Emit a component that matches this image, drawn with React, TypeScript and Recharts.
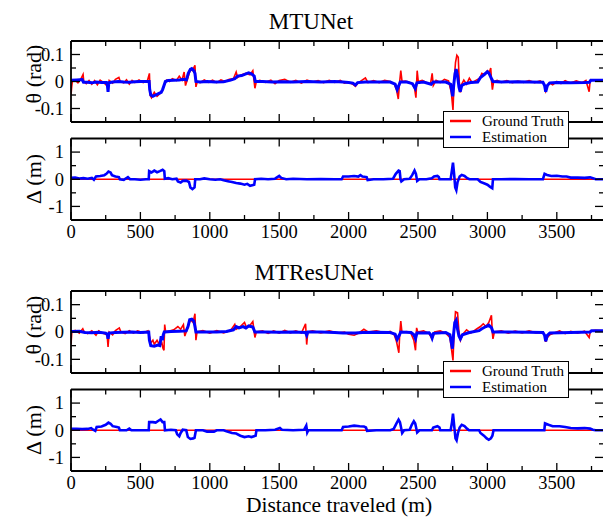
import React from 'react';
import { LineChart, Line, XAxis, YAxis, Legend } from 'recharts';

type Pt = [number, number];

const X_MAX = 3840;
const xTicks = [0, 250, 500, 750, 1000, 1250, 1500, 1750, 2000, 2250, 2500, 2750, 3000, 3250, 3500, 3750];
const thetaTicks = [-0.1, -0.05, 0, 0.05, 0.1];
const deltaTicks = [-1, -0.5, 0, 0.5, 1];
const thetaDomain: [number, number] = [-0.15, 0.15];
const deltaDomain: [number, number] = [-1.5, 1.5];

const titles = ['MTUNet', 'MTResUNet'];
const seriesNames = ['Ground Truth', 'Estimation'];
const xLabel = 'Distance traveled (m)';
const thetaLabel = 'θ (rad)';
const deltaLabel = 'Δ (m)';

const mtunetThetaTruth: Pt[] = [
  [0, -0.05], [5, -0.02], [10, 0], [30, 0.005], [50, -0.005], [70, 0.008], [87, 0.026], [92, 0], [110, -0.008],
  [130, 0.004], [150, -0.01], [170, 0.003], [190, -0.012], [210, 0.005], [240, -0.006], [267, -0.02], [275, 0.004],
  [300, -0.006], [320, 0.008], [345, 0.015], [355, 0], [380, -0.005], [400, 0.006], [420, -0.01], [440, 0.004],
  [460, -0.004], [490, 0.006], [520, -0.004], [550, 0.002], [565, 0.03], [570, -0.05], [580, -0.06], [600, -0.04],
  [620, -0.055], [640, -0.045], [660, -0.03], [675, -0.01], [690, 0.005], [710, 0], [730, 0.01], [760, 0.004],
  [780, 0.02], [800, 0.005], [815, 0.035], [825, -0.015], [840, 0.01], [860, 0.045], [875, 0.04], [893, 0.06],
  [900, -0.02], [910, 0], [930, -0.004], [960, 0.006], [990, -0.003], [1020, 0.005], [1050, -0.004], [1080, 0.006],
  [1110, 0], [1140, 0.008], [1170, 0.01], [1190, 0.035], [1200, 0.015], [1230, 0.025], [1260, 0.03], [1290, 0.025],
  [1310, 0.04], [1325, -0.025], [1335, 0], [1360, 0.004], [1400, -0.003], [1440, 0.005], [1470, -0.008], [1500, 0.004],
  [1540, 0.008], [1580, -0.003], [1620, 0.004], [1660, -0.006], [1700, 0.005], [1740, -0.002], [1780, 0.003],
  [1820, -0.004], [1860, 0.004], [1900, -0.003], [1940, 0.004], [1970, -0.006], [2000, -0.003], [2030, -0.01],
  [2049, -0.018], [2070, -0.005], [2100, 0.006], [2121, 0.013], [2140, -0.004], [2180, 0.003], [2220, -0.004],
  [2260, 0.004], [2300, 0], [2330, -0.01], [2345, -0.03], [2358, -0.065], [2366, -0.01], [2376, 0.04], [2385, 0],
  [2410, 0.002], [2440, -0.004], [2460, -0.01], [2475, -0.025], [2485, -0.06], [2494, 0.04], [2502, 0], [2530, 0.004],
  [2560, -0.004], [2590, -0.01], [2602, 0.03], [2610, -0.015], [2630, 0.004], [2660, -0.004], [2690, 0.008],
  [2720, 0.002], [2740, -0.04], [2752, -0.105], [2760, 0], [2770, 0.07], [2780, 0.097], [2790, 0.09], [2797, 0],
  [2806, -0.04], [2815, -0.01], [2830, 0.005], [2850, -0.01], [2870, 0.012], [2890, -0.004], [2920, 0.005],
  [2945, 0.012], [2960, 0.03], [2980, 0.025], [3000, 0.04], [3015, 0.035], [3024, 0.05], [3030, 0], [3036, -0.03],
  [3045, 0], [3070, 0.004], [3100, -0.003], [3140, 0.003], [3180, -0.004], [3220, 0.002], [3260, -0.003],
  [3300, 0.003], [3340, -0.004], [3380, 0.002], [3410, -0.01], [3420, -0.035], [3430, -0.02], [3445, -0.005],
  [3470, -0.012], [3500, 0], [3530, -0.008], [3560, 0.003], [3600, -0.006], [3640, 0.002], [3680, -0.005],
  [3710, 0.004], [3733, -0.038], [3740, 0.003], [3770, 0.006], [3800, 0.004], [3840, 0.005],
];

const mtunetThetaEst: Pt[] = [
  [0, 0.005], [40, 0.006], [80, 0.007], [90, -0.003], [120, -0.003], [150, -0.005], [180, -0.002], [220, -0.004],
  [255, -0.004], [262, -0.012], [267, -0.038], [272, -0.005], [300, -0.002], [340, 0], [380, -0.002], [420, -0.003],
  [460, -0.001], [500, 0], [540, 0], [563, 0], [567, -0.03], [575, -0.05], [590, -0.055], [610, -0.05], [630, -0.045],
  [650, -0.04], [660, -0.03], [670, -0.015], [680, 0], [700, 0.004], [740, 0.005], [780, 0.006], [810, 0.008],
  [832, 0.006], [845, 0.03], [860, 0.045], [870, 0.048], [885, 0.04], [893, 0.03], [900, 0], [930, -0.002], [980, 0],
  [1040, -0.002], [1100, -0.001], [1150, 0.005], [1180, 0.01], [1200, 0.02], [1230, 0.022], [1260, 0.028],
  [1280, 0.032], [1300, 0.028], [1320, 0.02], [1328, 0], [1380, 0], [1450, -0.002], [1520, -0.001], [1600, -0.002],
  [1700, 0], [1800, -0.002], [1900, 0], [1960, -0.002], [2000, -0.004], [2030, -0.006], [2049, -0.013], [2065, -0.004],
  [2120, -0.002], [2200, -0.002], [2300, -0.002], [2335, -0.01], [2350, -0.03], [2362, -0.015], [2372, -0.002],
  [2420, -0.002], [2460, -0.008], [2480, -0.026], [2492, -0.005], [2540, -0.002], [2595, -0.01], [2610, -0.002],
  [2700, -0.002], [2735, -0.01], [2750, -0.055], [2758, -0.01], [2767, 0.03], [2775, 0.046], [2785, 0.02],
  [2795, -0.02], [2804, -0.038], [2815, -0.015], [2840, -0.008], [2880, -0.004], [2930, -0.002], [2950, 0.015],
  [2975, 0.025], [3000, 0.036], [3012, 0.03], [3030, 0.01], [3040, 0], [3100, -0.002], [3200, -0.001], [3300, -0.002],
  [3400, -0.003], [3412, -0.015], [3420, -0.038], [3432, -0.015], [3450, -0.005], [3500, -0.004], [3600, -0.005],
  [3700, -0.004], [3735, -0.003], [3745, 0.005], [3840, 0.005],
];

const mtunetDeltaEst: Pt[] = [
  [0, 0.05], [30, 0.06], [60, 0.03], [90, 0.04], [120, 0.02], [150, 0.05], [165, -0.02], [180, 0.1], [210, 0.12],
  [240, 0.15], [255, 0.2], [270, 0.28], [285, 0.25], [295, 0.15], [320, 0.1], [345, 0.08], [352, 0], [380, -0.02],
  [410, 0.08], [425, 0], [460, 0], [500, -0.02], [540, 0], [560, 0], [563, 0.3], [580, 0.25], [600, 0.32], [620, 0.26],
  [640, 0.3], [660, 0.35], [672, 0.3], [676, 0.02], [700, 0.04], [730, 0], [760, 0.02], [770, -0.08], [790, -0.12],
  [805, -0.06], [830, -0.05], [850, -0.1], [860, -0.3], [875, -0.36], [890, -0.3], [895, 0], [930, 0], [960, 0.03],
  [1000, 0], [1040, -0.02], [1075, 0], [1100, -0.04], [1130, -0.07], [1160, -0.1], [1190, -0.14], [1220, -0.16],
  [1250, -0.2], [1270, -0.17], [1290, -0.24], [1320, -0.2], [1326, 0], [1370, 0.02], [1420, 0], [1470, 0.02],
  [1500, 0.12], [1515, 0.05], [1550, 0], [1600, 0.02], [1700, 0], [1800, 0.01], [1900, 0], [1950, 0], [1960, 0.1],
  [2000, 0.1], [2040, 0.12], [2070, 0.1], [2085, 0.15], [2100, 0.1], [2130, 0.08], [2137, -0.03], [2180, 0],
  [2250, 0], [2320, 0.02], [2340, 0.2], [2360, 0.32], [2368, 0.3], [2374, 0], [2380, -0.08], [2400, 0], [2440, 0.02],
  [2458, 0.15], [2475, 0.32], [2485, 0.2], [2494, -0.06], [2510, 0], [2560, 0], [2600, 0.04], [2615, 0.1],
  [2640, 0.12], [2650, 0.08], [2655, 0], [2700, 0], [2735, 0], [2745, 0.35], [2752, 0.61], [2760, 0.2], [2768, -0.3],
  [2776, -0.4], [2785, -0.1], [2800, 0.1], [2815, 0.16], [2835, 0.12], [2855, 0.04], [2870, 0], [2930, 0],
  [2950, -0.1], [2975, -0.15], [3000, -0.2], [3020, -0.28], [3035, -0.33], [3040, 0], [3100, 0], [3200, 0.01],
  [3300, 0], [3400, 0], [3412, 0.2], [3430, 0.16], [3460, 0.12], [3500, 0.13], [3540, 0.1], [3570, 0.1], [3600, 0.06],
  [3650, 0.06], [3700, 0.05], [3740, 0.07], [3760, 0.04], [3780, 0], [3840, 0],
];

const mtresunetThetaTruth: Pt[] = [
  [0, -0.045], [6, 0], [30, 0.006], [60, -0.004], [85, 0.012], [95, 0], [120, -0.006], [150, 0.004], [180, -0.012],
  [200, 0.004], [230, -0.005], [260, -0.01], [267, -0.055], [275, 0], [300, -0.01], [320, 0.005], [348, 0.015],
  [360, 0], [390, -0.006], [420, 0.005], [450, -0.004], [480, 0.004], [520, -0.003], [555, 0.004], [567, -0.02],
  [575, -0.04], [590, -0.03], [600, -0.045], [620, -0.03], [640, -0.05], [655, -0.04], [663, -0.06], [670, -0.067],
  [675, 0.027], [682, 0], [710, 0.004], [740, 0.008], [770, 0.02], [790, 0.01], [810, 0.027], [820, -0.015],
  [840, 0.015], [860, 0.045], [880, 0.035], [893, 0.067], [900, -0.03], [908, 0], [950, 0.005], [1000, -0.004],
  [1050, 0.005], [1100, -0.003], [1150, 0.006], [1180, 0.028], [1190, 0.01], [1220, 0.02], [1250, 0.035],
  [1265, 0.015], [1290, 0.025], [1310, 0.038], [1325, -0.02], [1335, 0], [1380, 0.004], [1420, -0.005], [1460, 0.004],
  [1500, -0.004], [1540, 0.006], [1580, -0.003], [1620, 0.004], [1660, -0.004], [1690, 0.03], [1698, -0.046],
  [1706, 0], [1740, 0.004], [1800, -0.003], [1860, 0.004], [1920, -0.004], [1970, 0], [2000, -0.008], [2040, -0.012],
  [2070, -0.005], [2110, 0.01], [2140, 0], [2200, 0.004], [2260, -0.003], [2300, 0.002], [2330, -0.012],
  [2345, -0.035], [2362, -0.076], [2368, -0.01], [2376, 0.04], [2384, 0], [2420, 0.002], [2450, -0.006],
  [2470, -0.03], [2482, -0.067], [2490, 0.015], [2498, 0], [2540, 0.004], [2580, -0.006], [2600, -0.025],
  [2610, -0.015], [2620, 0], [2660, 0.004], [2700, -0.004], [2730, -0.02], [2752, -0.104], [2760, 0], [2770, 0.074],
  [2785, 0.07], [2795, 0], [2806, -0.03], [2820, -0.01], [2850, 0.008], [2880, -0.004], [2920, 0.01], [2950, 0.02],
  [2970, 0.03], [2990, 0.02], [3010, 0.035], [3029, 0.061], [3035, 0], [3040, -0.025], [3050, 0], [3100, 0.004],
  [3150, -0.004], [3200, 0.003], [3250, -0.003], [3300, 0.004], [3350, -0.003], [3400, 0], [3415, -0.015],
  [3420, -0.036], [3432, -0.02], [3450, -0.01], [3480, -0.004], [3520, 0.004], [3560, -0.006], [3600, 0.002],
  [3650, -0.004], [3700, 0.003], [3733, -0.02], [3742, 0.004], [3780, 0.006], [3840, 0.004],
];

const mtresunetThetaEst: Pt[] = [
  [0, 0.002], [60, 0.003], [100, -0.002], [150, -0.003], [200, -0.001], [250, -0.004], [262, -0.01], [267, -0.025],
  [274, -0.004], [320, -0.002], [380, -0.001], [440, 0], [500, -0.002], [560, 0], [565, -0.03], [575, -0.05],
  [600, -0.052], [625, -0.048], [640, -0.05], [650, -0.015], [658, -0.03], [665, -0.01], [672, 0], [720, 0.002],
  [780, 0.003], [830, 0.004], [843, 0.02], [855, 0.045], [870, 0.047], [885, 0.04], [893, 0.02], [900, 0], [960, 0],
  [1050, 0], [1120, 0.002], [1170, 0.008], [1190, 0.02], [1210, 0.015], [1240, 0.02], [1260, 0.015], [1280, 0.022],
  [1310, 0.018], [1325, 0], [1400, 0], [1500, -0.001], [1600, 0], [1690, -0.002], [1698, -0.012], [1706, 0],
  [1800, 0], [1900, -0.002], [1960, -0.004], [2050, -0.004], [2100, -0.002], [2200, -0.001], [2300, -0.002],
  [2335, -0.008], [2350, -0.027], [2365, -0.012], [2375, 0], [2450, -0.002], [2470, -0.01], [2482, -0.025],
  [2492, -0.004], [2580, -0.003], [2595, -0.012], [2602, -0.022], [2612, -0.005], [2700, -0.002], [2730, -0.01],
  [2748, -0.061], [2756, -0.01], [2765, 0.035], [2775, 0.043], [2785, 0.01], [2795, -0.015], [2805, -0.025],
  [2820, -0.01], [2870, -0.002], [2940, 0.005], [2960, 0.012], [2990, 0.02], [3010, 0.025], [3030, 0.015], [3040, 0],
  [3150, 0], [3300, -0.001], [3400, -0.002], [3412, -0.012], [3420, -0.034], [3432, -0.012], [3450, -0.004],
  [3600, -0.002], [3740, 0], [3750, 0.005], [3840, 0.005],
];

const mtresunetDeltaEst: Pt[] = [
  [0, 0.05], [40, 0.05], [80, 0.04], [120, 0.05], [145, 0.08], [160, 0.02], [175, -0.02], [185, 0.12], [220, 0.14],
  [250, 0.2], [270, 0.28], [285, 0.24], [300, 0.15], [330, 0.12], [345, 0.1], [352, 0], [400, 0], [420, 0.06],
  [435, 0], [500, 0], [560, 0], [563, 0.3], [590, 0.3], [610, 0.28], [630, 0.35], [645, 0.4], [660, 0.3], [672, 0.3],
  [677, 0], [720, 0.02], [755, 0], [765, -0.15], [780, -0.22], [790, -0.1], [805, 0.02], [830, 0], [842, -0.25],
  [860, -0.32], [880, -0.3], [890, -0.28], [900, 0], [950, 0], [980, -0.05], [1030, -0.05], [1050, 0], [1100, 0],
  [1120, -0.04], [1160, -0.1], [1190, -0.12], [1220, -0.2], [1250, -0.25], [1280, -0.22], [1300, -0.25],
  [1330, -0.2], [1336, 0], [1400, 0], [1470, 0.02], [1505, 0.08], [1520, 0.02], [1600, 0], [1680, 0.02],
  [1695, 0.17], [1702, -0.08], [1710, 0], [1800, 0], [1900, 0], [1950, 0], [1960, 0.12], [2000, 0.14], [2040, 0.17],
  [2080, 0.15], [2110, 0.14], [2125, 0.1], [2133, -0.02], [2200, 0], [2300, 0], [2325, 0.05], [2345, 0.25],
  [2360, 0.39], [2370, 0.3], [2386, -0.1], [2400, 0], [2440, 0.02], [2455, 0.2], [2470, 0.33], [2480, 0.25],
  [2494, -0.08], [2510, 0], [2600, 0], [2610, 0.1], [2640, 0.15], [2655, 0.1], [2660, 0], [2735, 0], [2745, 0.3],
  [2752, 0.61], [2762, 0.1], [2770, -0.3], [2778, -0.37], [2788, -0.1], [2800, 0.1], [2815, 0.2], [2835, 0.15],
  [2855, 0.05], [2868, 0], [2940, 0], [2950, -0.1], [2975, -0.2], [2995, -0.3], [3010, -0.35], [3025, -0.3],
  [3036, -0.2], [3044, 0], [3200, 0], [3300, 0], [3410, 0], [3415, 0.25], [3440, 0.2], [3470, 0.15], [3520, 0.15],
  [3560, 0.12], [3600, 0.08], [3650, 0.07], [3700, 0.08], [3740, 0.06], [3760, 0.02], [3780, 0], [3840, 0],
];

const deltaTruth: Pt[] = [[0, 0], [3840, 0]];

const FONT = 'Liberation Serif, Times New Roman, serif';
const W = 640;
const H = 517;
const RED = '#ff0000';
const BLUE = '#0000ff';

const toRows = (pts: Pt[]) => pts.map(([x, y]) => ({ x, y }));

const isMajorX = (v: number) => v % 500 === 0;
const isMajorY = (v: number, step: number) => Math.abs(v / step - Math.round(v / step)) < 1e-6;

const BottomTick = (props: any) => {
  const { x, y, payload, showLabel } = props;
  const v = payload.value;
  const major = isMajorX(v);
  return (
    <g>
      <line x1={x} x2={x} y1={y} y2={y - (major ? 8 : 5)} stroke="#000" strokeWidth={1.3} />
      {showLabel && major ? (
        <text x={x} y={y + 18} textAnchor="middle" style={{ fontFamily: FONT }} fontSize={18.5} fill="#000">{v}</text>
      ) : null}
    </g>
  );
};

const TopTick = (props: any) => {
  const { x, y, payload } = props;
  const major = isMajorX(payload.value);
  return <line x1={x} x2={x} y1={y} y2={y + (major ? 8 : 5)} stroke="#000" strokeWidth={1.3} />;
};

const LeftTick = (props: any) => {
  const { x, y, payload, step } = props;
  const v = payload.value;
  const major = isMajorY(v, step);
  return (
    <g>
      <line x1={x} x2={x + (major ? 9 : 5)} y1={y} y2={y} stroke="#000" strokeWidth={1.3} />
      {major ? (
        <text x={x - 7} y={y} dy="0.34em" textAnchor="end" style={{ fontFamily: FONT }} fontSize={18.5} fill="#000">{String(v)}</text>
      ) : null}
    </g>
  );
};

const RightTick = (props: any) => {
  const { x, y, payload, step } = props;
  const major = isMajorY(payload.value, step);
  return <line x1={x} x2={x - (major ? 9 : 5)} y1={y} y2={y} stroke="#000" strokeWidth={1.3} />;
};

const LegendBox = (props: any) => {
  const payload = props.payload || [];
  return (
    <div style={{ width: 126, height: 37, border: '1px solid #000', background: '#fff', boxSizing: 'border-box', position: 'relative', fontFamily: FONT, fontSize: 15, color: '#000' }}>
      {payload.map((p: any, i: number) => (
        <div key={i} style={{ position: 'absolute', left: 6, top: 1.5 + i * 16, height: 16, display: 'flex', alignItems: 'center', whiteSpace: 'nowrap' }}>
          <svg width={21} height={4} style={{ display: 'block' }}>
            <line x1={0} x2={21} y1={2} y2={2} stroke={p.color} strokeWidth={2.5} />
          </svg>
          <span style={{ marginLeft: 11, lineHeight: '16px' }}>{p.value}</span>
        </div>
      ))}
    </div>
  );
};

const axisLineStyle = { stroke: '#000', strokeWidth: 1.8 };

type PanelProps = {
  plotTop: number;
  plotBottom: number;
  yDomain: [number, number];
  yTicks: number[];
  yStep: number;
  truth: Pt[];
  est: Pt[];
  estWidth: number;
  showXLabels: boolean;
  legendTop?: number;
};

function Panel(p: PanelProps) {
  return (
    <div style={{ position: 'absolute', left: 0, top: 0 }}>
      <LineChart width={W} height={H} margin={{ top: p.plotTop - 1, right: 0, bottom: H - p.plotBottom - 1, left: 21 }}>
        <XAxis xAxisId="b" type="number" dataKey="x" domain={[0, X_MAX]} ticks={xTicks} interval={0} orientation="bottom"
          height={1} tickSize={0} tickMargin={0} tickLine={false} axisLine={axisLineStyle} allowDataOverflow
          tick={(tp: any) => <BottomTick {...tp} showLabel={p.showXLabels} />} />
        <XAxis xAxisId="t" type="number" dataKey="x" domain={[0, X_MAX]} ticks={xTicks} interval={0} orientation="top"
          height={1} tickSize={0} tickMargin={0} tickLine={false} axisLine={axisLineStyle} allowDataOverflow
          tick={(tp: any) => <TopTick {...tp} />} />
        <YAxis yAxisId="l" type="number" domain={p.yDomain} ticks={p.yTicks} interval={0} orientation="left" width={50}
          tickSize={0} tickMargin={0} tickLine={false} axisLine={axisLineStyle} allowDataOverflow
          tick={(tp: any) => <LeftTick {...tp} step={p.yStep} />} />
        <YAxis yAxisId="r" type="number" domain={p.yDomain} ticks={p.yTicks} interval={0} orientation="right" width={36}
          tickSize={0} tickMargin={0} tickLine={false} axisLine={axisLineStyle} allowDataOverflow
          tick={(tp: any) => <RightTick {...tp} step={p.yStep} />} />
        <Line xAxisId="b" yAxisId="l" data={toRows(p.truth)} dataKey="y" name={seriesNames[0]} type="linear"
          stroke={RED} strokeWidth={1.6} dot={false} activeDot={false} isAnimationActive={false} />
        <Line xAxisId="b" yAxisId="l" data={toRows(p.est)} dataKey="y" name={seriesNames[1]} type="linear"
          stroke={BLUE} strokeWidth={p.estWidth} dot={false} activeDot={false} isAnimationActive={false} />
        {p.legendTop !== undefined ? (
          <Legend layout="vertical" align="center" verticalAlign="middle" content={LegendBox}
            itemSorter={(item: any) => seriesNames.indexOf(item.value)}
            wrapperStyle={{ position: 'absolute', left: 443, top: p.legendTop, width: 126, height: 37, zIndex: 5 }} />
        ) : null}
      </LineChart>
    </div>
  );
}

const textStyle = { fontFamily: FONT };

export default function App() {
  return (
    <div style={{ position: 'absolute', left: 0, top: 0, width: 603, height: 517, background: '#fff', overflow: 'hidden' }}>
      <svg width={603} height={517} style={{ position: 'absolute', left: 0, top: 0 }}>
        <text x={311} y={28.5} textAnchor="middle" style={textStyle} fontSize={23} fill="#000">{titles[0]}</text>
        <text x={314} y={280} textAnchor="middle" style={textStyle} fontSize={23} fill="#000">{titles[1]}</text>
        <text x={339} y={512} textAnchor="middle" style={textStyle} fontSize={21.5} fill="#000">{xLabel}</text>
        <text transform="translate(41,74) rotate(-90)" textAnchor="middle" style={textStyle} fontSize={22} fill="#000">{thetaLabel}</text>
        <text transform="translate(41,179) rotate(-90)" textAnchor="middle" style={textStyle} fontSize={22} fill="#000">{deltaLabel}</text>
        <text transform="translate(41,325) rotate(-90)" textAnchor="middle" style={textStyle} fontSize={22} fill="#000">{thetaLabel}</text>
        <text transform="translate(41,430) rotate(-90)" textAnchor="middle" style={textStyle} fontSize={22} fill="#000">{deltaLabel}</text>
      </svg>
      <Panel plotTop={41} plotBottom={122} yDomain={thetaDomain} yTicks={thetaTicks} yStep={0.1}
        truth={mtunetThetaTruth} est={mtunetThetaEst} estWidth={3} showXLabels={false} legendTop={110.5} />
      <Panel plotTop={138.5} plotBottom={220} yDomain={deltaDomain} yTicks={deltaTicks} yStep={1}
        truth={deltaTruth} est={mtunetDeltaEst} estWidth={2.6} showXLabels={true} />
      <Panel plotTop={291} plotBottom={373} yDomain={thetaDomain} yTicks={thetaTicks} yStep={0.1}
        truth={mtresunetThetaTruth} est={mtresunetThetaEst} estWidth={3} showXLabels={false} legendTop={360.5} />
      <Panel plotTop={389.5} plotBottom={471} yDomain={deltaDomain} yTicks={deltaTicks} yStep={1}
        truth={deltaTruth} est={mtresunetDeltaEst} estWidth={2.6} showXLabels={true} />
    </div>
  );
}
